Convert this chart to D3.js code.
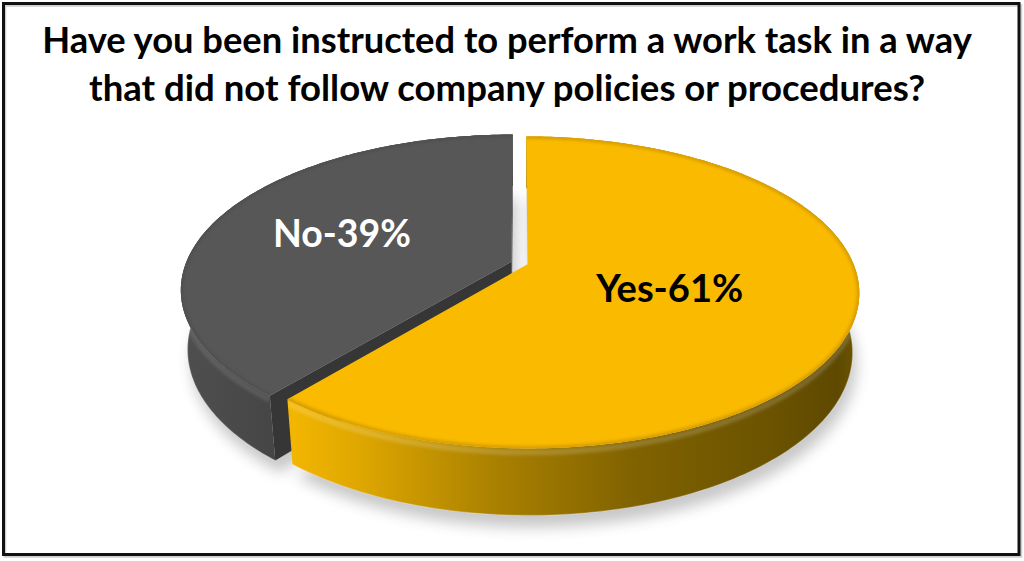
<!DOCTYPE html>
<html><head><meta charset="utf-8">
<script src="https://cdn.jsdelivr.net/npm/d3@7"></script>
<style>html,body{margin:0;padding:0;background:#fff}svg{display:block}</style>
</head><body>
<script>
// ---- data ----
const titleLines = ["Have you been instructed to perform a work task in a way",
                    "that did not follow company policies or procedures?"];
const categories = ["Yes", "No"];
const values = [61, 39];
const sliceLabels = ["Yes-61%", "No-39%"];

// ---- layout / style ----
const W = 1024, H = 561;
const topColors = {Yes: "#F9BA00", No: "#575757"};
const rimColors = {Yes: "#D99E00", No: "#505050"};
const labelColors = {Yes: "#000000", No: "#FFFFFF"};
const labelRadius = {Yes: 0.45, No: 0.575};
const labelWidth = {Yes: 147, No: 138};
const view = {cx: 519.5, cy: 263, A: 325.6, phi: Math.asin(0.462), D: 4.93, h: 0.207, explode: 0.026};
const fontFam = "Lato, 'Open Sans', 'DejaVu Sans', sans-serif";

const svg = d3.select("body").append("svg").attr("width", W).attr("height", H);
const defs = svg.append("defs");

svg.append("rect").attr("width", W).attr("height", H).attr("fill", "#fff");

// frame
svg.append("rect").attr("x", 5).attr("y", 5.5).attr("width", 1016).attr("height", 551)
  .attr("fill", "none").attr("stroke", "#cfcfcf").attr("stroke-width", 2.5);
svg.append("rect").attr("x", 3.5).attr("y", 3.5).attr("width", 1015.5).attr("height", 551)
  .attr("fill", "none").attr("stroke", "#111").attr("stroke-width", 3);

// gradients
function linGrad(id, x1, y1, x2, y2, stops) {
  const g = defs.append("linearGradient").attr("id", id).attr("gradientUnits", "userSpaceOnUse")
    .attr("x1", x1).attr("x2", x2).attr("y1", y1).attr("y2", y2);
  stops.forEach(s => g.append("stop").attr("offset", s[0]).attr("stop-color", s[1]));
}
linGrad("wallYes", 295, 0, 860, 0, [[0, "#F2B500"], [0.12, "#DDA600"], [0.35, "#AA8100"], [0.6, "#806200"], [0.85, "#6A5200"], [0.96, "#5E4900"], [1, "#6E5600"]]);
linGrad("wallNo", 180, 0, 300, 0, [[0, "#4F4F4F"], [1, "#434343"]]);
linGrad("gapFace", 0, 137, 0, 268, [[0, "#ffffff"], [0.38, "#f4f4f4"], [0.45, "#dedede"], [0.85, "#e2e2e2"], [1, "#f0f0f0"]]);
const wallFill = {Yes: "url(#wallYes)", No: "url(#wallNo)"};
const radialFill = {Yes: "url(#gapFace)", No: "#363636"};

const blur = defs.append("filter").attr("id", "shadow").attr("x", "-20%").attr("y", "-20%").attr("width", "140%").attr("height", "140%");
blur.append("feGaussianBlur").attr("stdDeviation", 7);
const soft = defs.append("filter").attr("id", "soft").attr("x", "-5%").attr("y", "-5%").attr("width", "110%").attr("height", "110%");
soft.append("feGaussianBlur").attr("stdDeviation", 1.6);

// projection
const sp = Math.sin(view.phi), cp = Math.cos(view.phi);
function proj(X, Y, Z) {
  const yv = Z * sp - Y * cp;
  const zv = -Z * cp - Y * sp;
  const s = view.D / (view.D + zv);
  return [view.cx + view.A * X * s, view.cy + view.A * yv * s];
}
const camera = [0, view.D * sp, view.D * cp];

const pie = d3.pie().sort(null).value(d => d.value);
const arcs = pie(categories.map((c, i) => ({cat: c, value: values[i], label: sliceLabels[i]})));
const line = d3.line();

arcs.forEach(a => {
  const mid = (a.startAngle + a.endAngle) / 2;
  a.mid = mid;
  a.ox = view.explode * Math.sin(mid);
  a.oz = -view.explode * Math.cos(mid);
  a.rim = (t, Y) => [a.ox + Math.sin(t), Y, a.oz - Math.cos(t)];
  const n = Math.max(2, Math.ceil((a.endAngle - a.startAngle) / (Math.PI / 180)) + 1);
  a.ts = d3.range(n).map(i => a.startAngle + (a.endAngle - a.startAngle) * i / (n - 1));
  a.depth = -(a.oz) * cp;
});

// shadow
const shadowG = svg.append("g").attr("filter", "url(#shadow)").attr("transform", "translate(4,12)").attr("opacity", 0.32);
arcs.forEach(a => {
  const pts = [proj(a.ox, -view.h, a.oz)].concat(a.ts.map(t => proj(...a.rim(t, -view.h))));
  shadowG.append("path").attr("d", line(pts) + "Z").attr("fill", "#555");
});

const sides = svg.append("g");
const ordered = arcs.slice().sort((p, q) => q.depth - p.depth);
ordered.forEach((a, k) => {
  // radial faces
  [[a.startAngle, -1], [a.endAngle, 1]].forEach(([ang, sgn]) => {
    const nx = sgn * Math.cos(ang), nz = sgn * Math.sin(ang);
    const P = [a.ox + 0.5 * Math.sin(ang), -view.h / 2, a.oz - 0.5 * Math.cos(ang)];
    const dot = nx * (camera[0] - P[0]) + nz * (camera[2] - P[2]);
    if (dot <= 0) return;
    const pts = [proj(a.ox, 0, a.oz), proj(...a.rim(ang, 0)), proj(...a.rim(ang, -view.h)), proj(a.ox, -view.h, a.oz)];
    sides.append("path").attr("d", line(pts) + "Z").attr("fill", radialFill[a.data.cat]);
  });
  // outer wall
  const topPts = a.ts.map(t => proj(...a.rim(t, 0)));
  const botPts = a.ts.map(t => proj(...a.rim(t, -view.h))).reverse();
  const wallD = line(topPts.concat(botPts)) + "Z";
  sides.append("path").attr("d", wallD).attr("fill", wallFill[a.data.cat]);
  // bevel highlight band at top of wall
  const cid = "wclip" + k;
  defs.append("clipPath").attr("id", cid).append("path").attr("d", wallD);
  const bandTop = a.ts.map(t => proj(...a.rim(t, -0.012)));
  sides.append("path").attr("d", line(bandTop)).attr("fill", "none")
    .attr("stroke", "#fff").attr("stroke-opacity", a.data.cat === "Yes" ? 0.16 : 0.1)
    .attr("stroke-width", 6).attr("clip-path", `url(#${cid})`).attr("filter", "url(#soft)");
  // bottom edge light line
  const bot = a.ts.map(t => proj(...a.rim(t, -view.h)));
  sides.append("path").attr("d", line(bot)).attr("fill", "none")
    .attr("stroke", "#fff").attr("stroke-opacity", 0.25).attr("stroke-width", 1.2);
});

// top faces
const tops = svg.append("g");
arcs.forEach((a, k) => {
  const pts = [proj(a.ox, 0, a.oz)].concat(a.ts.map(t => proj(...a.rim(t, 0))));
  const d = line(pts) + "Z";
  tops.append("path").attr("d", d).attr("fill", topColors[a.data.cat]);
  const cid = "tclip" + k;
  defs.append("clipPath").attr("id", cid).append("path").attr("d", d);
  const rim = a.ts.map(t => proj(...a.rim(t, 0)));
  tops.append("path").attr("d", line(rim)).attr("fill", "none")
    .attr("stroke", rimColors[a.data.cat]).attr("stroke-width", 5)
    .attr("clip-path", `url(#${cid})`).attr("filter", "url(#soft)");
});

// labels
function fitText(sel, target, base) {
  sel.attr("font-size", base);
  const w = sel.node().getComputedTextLength();
  sel.attr("font-size", base * target / w);
}
arcs.forEach(a => {
  const r = labelRadius[a.data.cat];
  const p = proj(a.ox + r * Math.sin(a.mid), 0, a.oz - r * Math.cos(a.mid));
  const t = svg.append("text").attr("x", p[0]).attr("y", p[1] + 14)
    .attr("text-anchor", "middle").attr("font-family", fontFam).attr("font-weight", 700)
    .attr("fill", labelColors[a.data.cat]).text(a.data.label);
  fitText(t, labelWidth[a.data.cat], 38);
});

// title
const titleWidths = [930, 836];
const titleY = [53, 101];
titleLines.forEach((s, i) => {
  const t = svg.append("text").attr("x", 507).attr("y", titleY[i]).attr("text-anchor", "middle")
    .attr("font-family", fontFam).attr("font-weight", 700).attr("fill", "#000").text(s);
  fitText(t, titleWidths[i], 34);
});
</script>
</body></html>
